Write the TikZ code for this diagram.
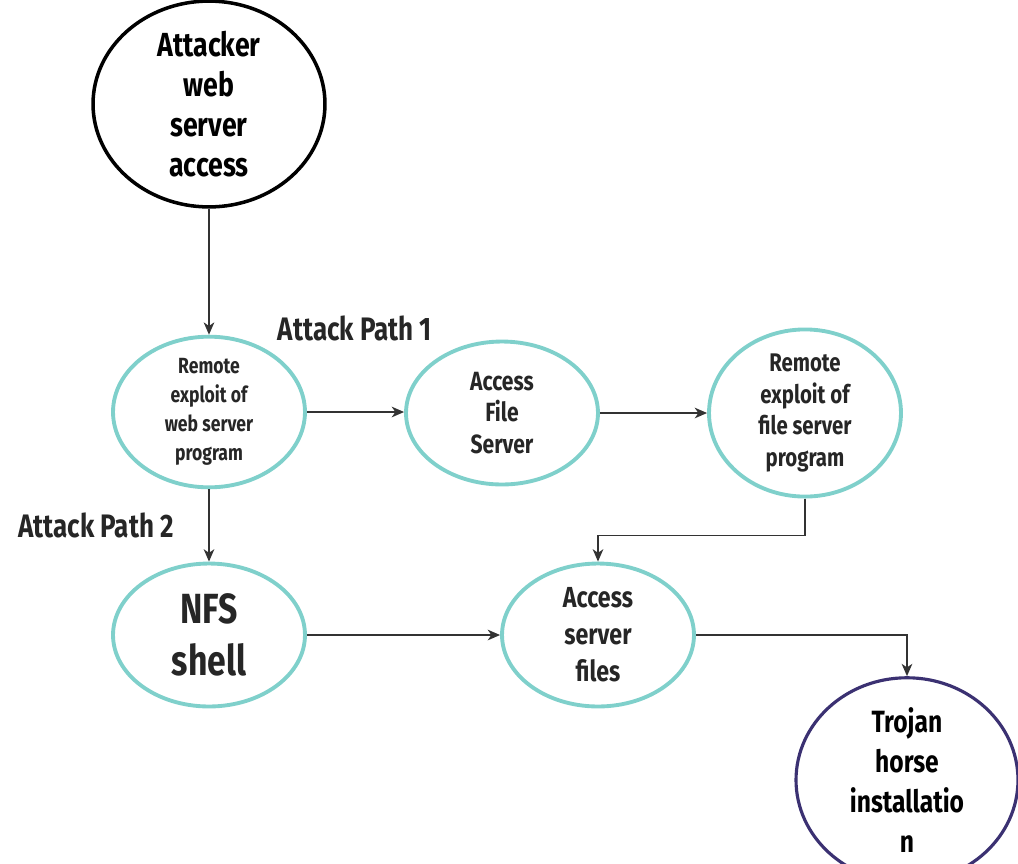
\documentclass[tikz,border=0pt]{standalone}
\usepackage{fontspec}
\setmainfont{Fira Sans}[FakeStretch=0.8]
\usetikzlibrary{shapes.geometric,arrows.meta}
\definecolor{tealline}{HTML}{7FD0CB}
\definecolor{purpleline}{HTML}{3B3172}
\definecolor{arrowgray}{HTML}{333333}
\tikzset{
  stage/.style={ellipse, draw=tealline, line width=2.2pt, inner sep=0pt,
    minimum width=3.84cm, minimum height=2.86cm, align=center, text=black!85},
  startnode/.style={ellipse, draw=black, line width=2pt, inner sep=0pt,
    minimum width=4.64cm, minimum height=3.44cm, align=center},
  goalnode/.style={ellipse, draw=purpleline, line width=1.8pt, inner sep=0pt,
    minimum width=4.44cm, minimum height=3.44cm, align=center},
  flow/.style={draw=arrowgray, line width=1pt, -{Stealth[length=7pt,width=6pt,inset=2pt]}},
  pathlabel/.style={font=\bfseries\fontsize{18.5}{20}\selectfont, text=black!85}
}
\begin{document}
\begin{tikzpicture}[x=0.02cm, y=-0.02cm]
\useasboundingbox (0,0) rectangle (1018,863);

% start and goal
\node[startnode, font=\bfseries\fontsize{19}{22.7}\selectfont] (att) at (209,104)
  {Attacker\\web\\server\\access};
\node[goalnode, font=\bfseries\fontsize{17.5}{22.7}\selectfont] (troj) at (907,780)
  {Trojan\\horse\\installatio\\n};

% intermediate stages
\node[stage, font=\bfseries\fontsize{12.5}{16.4}\selectfont] (web) at (209,412)
  {Remote\\exploit of\\web server\\program};
\node[stage, font=\bfseries\fontsize{15}{18}\selectfont] (afs) at (502,413)
  {Access\\File\\Server};
\node[stage, font=\bfseries\fontsize{14.5}{18}\selectfont] (rfs) at (805,413)
  {Remote\\exploit of\\file server\\program};
\node[stage, font=\bfseries\fontsize{24}{29.5}\selectfont] (nfs) at (209,635)
  {NFS\\shell};
\node[stage, font=\bfseries\fontsize{16.5}{21}\selectfont] (asf) at (598,635)
  {Access\\server\\files};

% path labels
\node[pathlabel] (p1) at (355,328) {Attack Path 1};
\node[pathlabel] (p2) at (96,525) {Attack Path 2};

% connectors
\draw[flow] (att.south) -- (web.north);
\draw[flow] (web.east) -- (web.east -| afs.west);
\draw[flow] (afs.east) -- (afs.east -| rfs.west);
\draw[flow] (web.south) -- (nfs.north);
\draw[flow] (rfs.south) -- ++(0,37) -| (asf.north);
\draw[flow] (nfs.east) -- (nfs.east -| asf.west);
\draw[flow] (asf.east) -| (troj.north);
\end{tikzpicture}
\end{document}
